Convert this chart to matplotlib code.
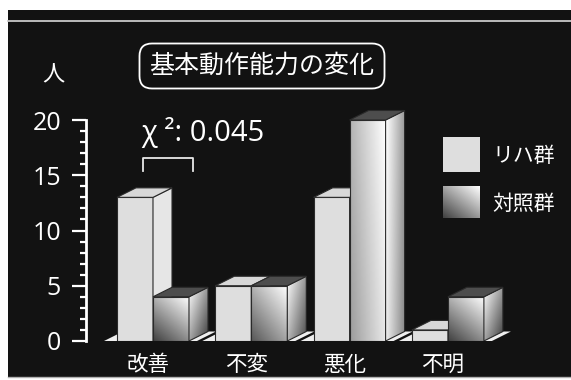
import matplotlib
matplotlib.use('Agg')
import matplotlib.pyplot as plt
import numpy as np
from matplotlib.patches import Polygon, Rectangle
from matplotlib.lines import Line2D
from matplotlib.ticker import FixedLocator

plt.rcParams['font.family'] = ['Open Sans', 'Noto Sans CJK JP', 'DejaVu Sans']

# ---- data ----
categories = ['改善', '不変', '悪化', '不明']
reha = [13, 5, 13, 1]
control = [4, 5, 20, 4]
series_names = ['リハ群', '対照群']
yticks = [0, 5, 10, 15, 20]
title = '基本動作能力の変化'
ylabel = '人'
stat_text = 'χ ²: 0.045'

W, H = 571, 380
fig = plt.figure(figsize=(W / 100, H / 100), dpi=100)
fig.patch.set_facecolor('white')


def fx(px):
    return px / W


def fy(py):
    return (H - py) / H


# black panel + grey rules
fig.add_artist(Rectangle((fx(8), fy(378)), 1 - fx(8), fy(10) - fy(378),
                         transform=fig.transFigure, facecolor='#121212',
                         edgecolor='none', zorder=0))
fig.add_artist(Line2D([fx(8), 1], [fy(21), fy(21)], transform=fig.transFigure,
                      color='#c8c8c8', lw=1.3, zorder=1))
fig.add_artist(Line2D([fx(8), 1], [fy(377), fy(377)], transform=fig.transFigure,
                      color='#b0b0b0', lw=1.0, zorder=1))

# axes geometry
px_per_unit_y = 11.05
px_per_unit_x = 98.3
y0_px = 341
top_px = 95
left_px = 86
c0_px = 153
ax = fig.add_axes([fx(left_px), fy(y0_px), 1 - fx(left_px), (y0_px - top_px) / H])
ax.set_facecolor('none')
ylim_top = (y0_px - top_px) / px_per_unit_y
xlim = ((left_px - c0_px) / px_per_unit_x, (W - c0_px) / px_per_unit_x)

w = 36 / px_per_unit_x
dx = 19 / px_per_unit_x
dy = 9.5 / px_per_unit_y
edge = '#2a2a2a'


def grad_fill(patch, x0, x1, y0, y1, func, z):
    n = 80
    u = np.linspace(0, 1, n)[None, :]
    v = np.linspace(0, 1, n)[:, None]
    img = np.clip(func(u, v), 0, 1)
    im = ax.imshow(img, cmap='gray', vmin=0, vmax=1, extent=(x0, x1, y0, y1),
                   origin='lower', aspect='auto', zorder=z, interpolation='bilinear')
    im.set_clip_path(patch)


xs = np.arange(len(categories))

# floors
for i in xs:
    l = i - w - 13 / px_per_unit_x
    r = i + w + 8 / px_per_unit_x
    ax.add_patch(Polygon([(l, 0), (l + dx, dy), (r + dx, dy), (r, 0)],
                         closed=True, facecolor='#efefef', edgecolor='none', zorder=1))

# 3-D bars
for i in xs:
    for s, vals in enumerate([reha, control]):
        h = vals[i]
        x0 = i - w if s == 0 else i
        z = 2 + i * 10 + s * 4
        if s == 0:
            ax.bar(x0, h, width=w, align='edge', color='#dedede', edgecolor=edge,
                   lw=0.8, zorder=z)
            side = Polygon([(x0 + w, 0), (x0 + w + dx, dy), (x0 + w + dx, h + dy), (x0 + w, h)],
                           closed=True, facecolor='#e6e6e6', edgecolor=edge, lw=0.8, zorder=z + 1)
            top = Polygon([(x0, h), (x0 + dx, h + dy), (x0 + w + dx, h + dy), (x0 + w, h)],
                          closed=True, facecolor='#d8d8d8', edgecolor=edge, lw=0.8, zorder=z + 2)
            ax.add_patch(side)
            ax.add_patch(top)
        else:
            av = 0.45 * min(1.0, 4.0 / h)
            bars = ax.bar(x0, h, width=w, align='edge', color='none', edgecolor=edge,
                          lw=0.8, zorder=z + 0.5)
            grad_fill(bars[0], x0, x0 + w, 0, h,
                      lambda u, v, av=av: 1 - (1 - u) * 0.3 - (1 - v) * av, z)
            side = Polygon([(x0 + w, 0), (x0 + w + dx, dy), (x0 + w + dx, h + dy), (x0 + w, h)],
                           closed=True, facecolor='none', edgecolor=edge, lw=0.8, zorder=z + 1.5)
            ax.add_patch(side)
            grad_fill(side, x0 + w, x0 + w + dx, 0, h + dy,
                      lambda u, v, av=av: 1 - u * 0.4 - (1 - v) * av * 0.8, z + 1)
            top = Polygon([(x0, h), (x0 + dx, h + dy), (x0 + w + dx, h + dy), (x0 + w, h)],
                          closed=True, facecolor='#4d4d4d', edgecolor=edge, lw=0.8, zorder=z + 2)
            ax.add_patch(top)

ax.set_xlim(*xlim)
ax.set_ylim(0, ylim_top)

# axes styling
for sp in ['top', 'right', 'bottom']:
    ax.spines[sp].set_visible(False)
ax.spines['left'].set_color('white')
ax.spines['left'].set_linewidth(2)
ax.spines['left'].set_bounds(yticks[0], yticks[-1])
ax.set_yticks(yticks)
ax.yaxis.set_minor_locator(FixedLocator(list(range(yticks[0], yticks[-1] + 1))))
ax.tick_params(axis='y', which='major', direction='out', length=10, width=1.6,
               color='white', labelcolor='white', labelsize=18, pad=8)
ax.tick_params(axis='y', which='minor', direction='out', length=4.5, width=1.6,
               color='white')
ax.set_xticks(xs - 0.05)
ax.set_xticklabels(categories)
ax.tick_params(axis='x', length=0, labelcolor='white', labelsize=15.5, pad=10)

# y label
fig.text(fx(53), fy(76), ylabel, color='white', fontsize=16, ha='center', va='center')

# title box
fig.text(fx(262), fy(66), title, color='white', fontsize=18, ha='center', va='center',
         bbox=dict(boxstyle='round,pad=0.4,rounding_size=0.5', fc='none', ec='white', lw=1.3))

# statistic + bracket
fig.text(fx(141), fy(133), stat_text, color='white', fontsize=21, ha='left', va='center')
fig.add_artist(Line2D([fx(143), fx(143), fx(193), fx(193)],
                      [fy(171), fy(158), fy(158), fy(171)], transform=fig.transFigure,
                      color='#e8e8e8', lw=1.3))

# legend
sw1 = fig.add_axes([fx(443), fy(172), fx(480) - fx(443), fy(137) - fy(172)])
sw1.imshow(np.full((2, 2), 0.87), cmap='gray', vmin=0, vmax=1, aspect='auto')
sw1.axis('off')
sw2 = fig.add_axes([fx(443), fy(218), fx(480) - fx(443), fy(186) - fy(218)])
uu = np.linspace(0, 1, 60)[None, :]
vv = np.linspace(0, 1, 60)[:, None]
sw2.imshow(np.clip(1 - (1 - uu) * 0.35 - (1 - vv) * 0.4, 0, 1), cmap='gray', vmin=0,
           vmax=1, origin='lower', aspect='auto', interpolation='bilinear')
sw2.axis('off')
fig.text(fx(492), fy(157), series_names[0], color='white', fontsize=15, ha='left', va='center')
fig.text(fx(492), fy(204), series_names[1], color='white', fontsize=15, ha='left', va='center')

fig.savefig('out.png', dpi=100, facecolor=fig.get_facecolor())
